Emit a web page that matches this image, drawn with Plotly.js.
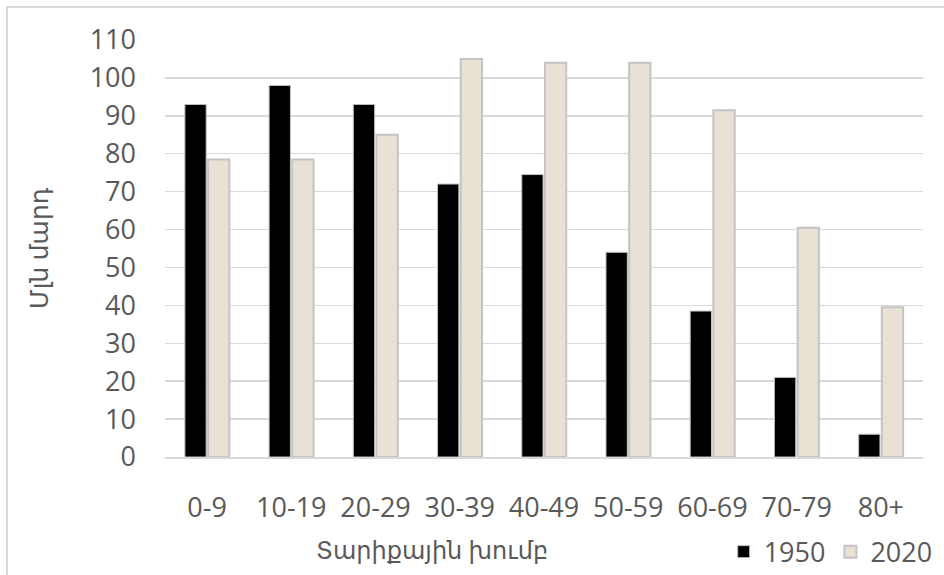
<!DOCTYPE html>
<html><head><meta charset="utf-8">
<script src="https://cdn.plot.ly/plotly-3.0.1.min.js"></script>
<style>
html,body{margin:0;padding:0;background:#fff;overflow:hidden;}
#frame{position:absolute;left:6px;top:6px;width:944px;height:575px;border-left:2px solid #d9d9d9;border-top:2px solid #d9d9d9;}
#chart{position:absolute;left:0;top:0;width:944px;height:575px;}
</style></head>
<body>
<div id="frame"></div>
<div id="chart"></div>
<script>
const categories = ["0-9","10-19","20-29","30-39","40-49","50-59","60-69","70-79","80+"];
const values1950 = [93, 98, 93, 72, 74.5, 54, 38.5, 21, 6];
const values2020 = [78.5, 78.5, 85, 105, 104, 104, 91.5, 60.5, 39.5];
const seriesNames = ["1950", "2020"];
const yTitle = "Մլն մարդ";
const xTitle = "Տարիքային խումբ";

const font = "Open Sans, Noto Sans, DejaVu Sans, sans-serif";
const txt = "#595959";
const traces = [
  {type:"bar", name:seriesNames[0], x:categories, y:values1950,
   marker:{color:"#000000", line:{color:"#bfbfbf", width:1}}},
  {type:"bar", name:seriesNames[1], x:categories, y:values2020,
   marker:{color:"#e9e2d4", line:{color:"#c4c4c4", width:2}}}
];
const layout = {
  width:944, height:575,
  margin:{l:165, r:21, t:40, b:118, autoexpand:false},
  paper_bgcolor:"rgba(0,0,0,0)", plot_bgcolor:"rgba(0,0,0,0)",
  barmode:"group", bargap:0.45, bargroupgap:0.08,
  font:{family:font, size:27, color:txt},
  xaxis:{type:"category", showgrid:false, showline:true, linecolor:"#d9d9d9", linewidth:1.5,
         ticks:"", tickfont:{size:27, color:txt}, ticklabelstandoff:26, automargin:false},
  yaxis:{range:[0,110], dtick:10, showgrid:true, gridcolor:"#d9d9d9", gridwidth:1.5,
         zeroline:false, showline:false, ticks:"", tickfont:{size:27, color:txt}, ticklabelstandoff:28, automargin:false},
  showlegend:true,
  legend:{orientation:"h", x:0.737, y:-0.228, xanchor:"left", yanchor:"middle",
          font:{size:27, color:txt}, traceorder:"normal", itemwidth:30, tracegroupgap:0},
  annotations:[
    {text:xTitle, xref:"paper", yref:"paper", x:0.352, y:-0.223, xanchor:"center", yanchor:"middle",
     showarrow:false, font:{size:24, color:txt}},
    {text:yTitle, xref:"paper", yref:"paper", x:-0.168, y:0.5, xanchor:"center", yanchor:"middle",
     textangle:-90, showarrow:false, font:{size:25, color:txt}}
  ]
};
Plotly.newPlot("chart", traces, layout, {displayModeBar:false, staticPlot:true});
</script>
</body></html>
